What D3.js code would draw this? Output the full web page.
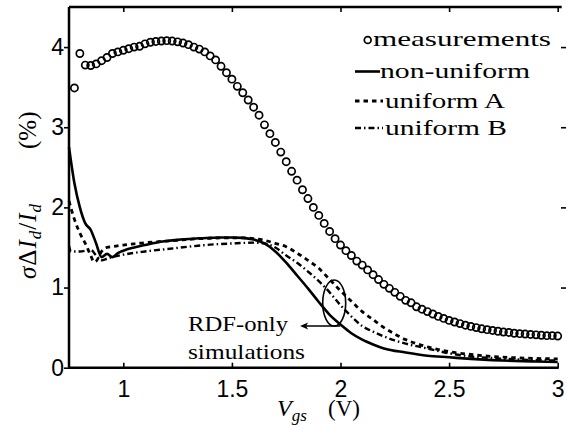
<!DOCTYPE html>
<meta charset="utf-8">
<title>sigma dId/Id vs Vgs</title>
<style>
body { margin:0; background:#fff; }
svg { display:block; }
</style>
<svg width="567" height="430"></svg>
<script src="https://d3js.org/d3.v7.min.js"></script>
<script>

// ---- data ----
var xTicks = [1, 1.5, 2, 2.5, 3];
var yTicks = [0, 1, 2, 3, 4];

var measVgs = [0.775,0.8,0.825,0.85,0.875,0.9,0.925,0.95,0.975,1.0,1.025,1.05,1.075,1.1,1.125,1.15,1.175,1.2,1.225,1.25,
  1.275,1.3,1.325,1.35,1.375,1.4,1.425,1.45,1.475,1.5,1.525,1.55,1.575,1.6,1.625,1.65,1.675,1.7,1.725,1.75,
  1.775,1.8,1.825,1.85,1.875,1.9,1.925,1.95,1.975,2.0,2.025,2.05,2.075,2.1,2.125,2.15,2.175,2.2,2.225,2.25,
  2.275,2.3,2.325,2.35,2.375,2.4,2.425,2.45,2.475,2.5,2.525,2.55,2.575,2.6,2.625,2.65,2.675,2.7,2.725,2.75,
  2.775,2.8,2.825,2.85,2.875,2.9,2.925,2.95,2.975,3.0];
var measSigma = [3.49,3.92,3.775,3.77,3.79,3.83,3.87,3.92,3.94,3.96,3.98,4.0,4.01,4.04,4.06,4.07,4.075,4.08,4.075,4.065,
  4.05,4.03,4.0,3.975,3.94,3.89,3.84,3.76,3.68,3.6,3.51,3.43,3.34,3.25,3.15,3.03,2.92,2.81,2.69,2.57,
  2.45,2.34,2.22,2.11,2.0,1.9,1.8,1.7,1.61,1.53,1.46,1.4,1.33,1.28,1.22,1.16,1.1,1.04,0.99,0.94,
  0.89,0.84,0.81,0.76,0.73,0.7,0.67,0.64,0.615,0.59,0.57,0.55,0.53,0.515,0.5,0.485,0.475,0.465,0.455,0.445,
  0.44,0.43,0.425,0.42,0.415,0.41,0.405,0.4,0.4,0.395];

var nuVgs   = [0.75,0.775,0.8,0.825,0.85,0.875,0.9,0.925,0.95,0.975,1.0,1.05,1.1,1.15,1.2,1.25,1.3,1.35,1.4,1.45,1.5,1.55,1.6,
  1.65,1.7,1.75,1.8,1.85,1.9,1.95,2.0,2.05,2.1,2.15,2.2,2.3,2.4,2.5,2.6,2.7,2.8,2.9,3.0];
var nuSigma = [2.75,2.3,2.0,1.8,1.72,1.55,1.38,1.42,1.38,1.43,1.46,1.5,1.53,1.56,1.58,1.595,1.605,1.615,1.62,1.625,1.625,1.62,1.6,
  1.55,1.45,1.31,1.15,0.99,0.82,0.66,0.54,0.43,0.35,0.29,0.24,0.19,0.15,0.13,0.11,0.095,0.085,0.078,0.072];

var uaVgs   = [0.75,0.775,0.8,0.825,0.85,0.865,0.875,0.9,0.925,0.95,1.0,1.05,1.1,1.15,1.2,1.25,1.3,1.35,1.4,1.45,1.5,1.55,1.6,
  1.65,1.7,1.75,1.8,1.85,1.9,1.95,2.0,2.05,2.1,2.15,2.2,2.25,2.3,2.35,2.4,2.5,2.6,2.7,2.8,2.9,3.0];
var uaSigma = [2.08,1.85,1.68,1.55,1.4,1.32,1.33,1.45,1.5,1.51,1.53,1.545,1.56,1.57,1.58,1.59,1.6,1.61,1.615,1.62,1.62,1.62,1.61,
  1.59,1.55,1.51,1.43,1.34,1.24,1.1,0.96,0.83,0.7,0.6,0.5,0.42,0.35,0.3,0.26,0.2,0.165,0.14,0.125,0.115,0.11];

var ubVgs   = [0.75,0.76,0.8,0.85,0.875,0.9,0.925,0.95,1.0,1.1,1.2,1.3,1.4,1.5,1.6,1.65,1.7,1.75,1.8,1.85,1.9,1.95,2.0,
  2.05,2.1,2.15,2.2,2.25,2.3,2.4,2.5,2.6,2.7,2.8,2.9,3.0];
var ubSigma = [1.52,1.45,1.45,1.47,1.4,1.34,1.36,1.38,1.41,1.45,1.48,1.51,1.535,1.55,1.56,1.55,1.5,1.4,1.31,1.2,1.08,0.94,0.78,
  0.64,0.52,0.45,0.39,0.34,0.3,0.24,0.18,0.14,0.12,0.105,0.095,0.09];

var legendLabels = ["measurements", "non-uniform", "uniform A", "uniform B"];
var noteLines = ["RDF-only", "simulations"];

// ---- layout ----
var SERIF = "'Liberation Serif', 'DejaVu Serif', serif",
    SANS = "'Liberation Sans', Arial, Helvetica, sans-serif";

var svg = d3.select("svg"),
    pLeft = 69, pRight = 557.7, pTop = 7, pBottom = 367.7;

var x = d3.scaleLinear().domain([0.75, 3]).range([pLeft, pRight]);
var y = d3.scaleLinear().domain([0, 4.5]).range([pBottom, pTop]);

var toPts = function(xs, ys) { return xs.map(function(v, i) { return [v, ys[i]]; }); };
var line = d3.line()
    .x(function(d) { return x(d[0]); })
    .y(function(d) { return y(d[1]); })
    .curve(d3.curveMonotoneX);

// axes
var fmt = d3.format("");
var gB = svg.append("g").attr("transform", "translate(0," + pBottom + ")")
  .call(d3.axisBottom(x).tickValues(xTicks).tickFormat(fmt).tickSizeInner(-5).tickSizeOuter(0).tickPadding(13));
var gT = svg.append("g").attr("transform", "translate(0," + pTop + ")")
  .call(d3.axisTop(x).tickValues(xTicks).tickFormat("").tickSizeInner(-5).tickSizeOuter(0));
var gL = svg.append("g").attr("transform", "translate(" + pLeft + ",0)")
  .call(d3.axisLeft(y).tickValues(yTicks).tickFormat(fmt).tickSizeInner(5).tickSizeOuter(0).tickPadding(0));
var gR = svg.append("g").attr("transform", "translate(561,0)")
  .call(d3.axisRight(y).tickValues(yTicks.slice(1)).tickFormat("").tickSizeInner(5).tickSizeOuter(0));
gR.select(".domain").remove();

[gB, gT, gL].forEach(function(g) {
  g.select(".domain").attr("stroke", "#000").attr("stroke-width", 2.5);
});
[gB, gT, gL, gR].forEach(function(g) {
  g.attr("font-family", null).attr("font-size", null);
  g.selectAll(".tick line").attr("stroke", "#000").attr("stroke-width", 1.6);
  g.selectAll(".tick text").style("font-family", SANS).style("font-size", "23px").attr("fill", "#000");
});
gL.select(".domain").attr("d", "M0," + pTop + "V" + pBottom);
gB.select(".domain").attr("d", "M" + pLeft + ",0H" + (pRight + 1));
gT.select(".domain").attr("d", "M" + pLeft + ",0H" + (pRight + 4));

// simulation curves
svg.append("path").datum(toPts(ubVgs, ubSigma))
  .attr("d", line).attr("fill", "none").attr("stroke", "#000")
  .attr("stroke-width", 2.4).attr("stroke-dasharray", "6,3,1.5,3");
svg.append("path").datum(toPts(uaVgs, uaSigma))
  .attr("d", line).attr("fill", "none").attr("stroke", "#000")
  .attr("stroke-width", 2.8).attr("stroke-dasharray", "4.5,4");
svg.append("path").datum(toPts(nuVgs, nuSigma))
  .attr("d", line).attr("fill", "none").attr("stroke", "#000")
  .attr("stroke-width", 2.6);

// measurements
svg.append("g").selectAll("circle")
  .data(toPts(measVgs, measSigma))
  .enter().append("circle")
    .attr("cx", function(d) { return x(d[0]); })
    .attr("cy", function(d) { return y(d[1]); })
    .attr("r", 3.6)
    .attr("fill", "none").attr("stroke", "#000").attr("stroke-width", 1.7);

// annotation: ellipse + arrow + text
var ell = {vgs: 1.971, sigma: 0.807};
svg.append("ellipse")
  .attr("cx", x(ell.vgs)).attr("cy", y(ell.sigma)).attr("rx", 11.5).attr("ry", 23)
  .attr("fill", "none").attr("stroke", "#000").attr("stroke-width", 1.6);
var arrow = {from: 1.998, to: 1.814, sigma: 0.52};
svg.append("line")
  .attr("x1", x(arrow.from)).attr("x2", x(arrow.to) + 3)
  .attr("y1", y(arrow.sigma)).attr("y2", y(arrow.sigma))
  .attr("stroke", "#000").attr("stroke-width", 1.3);
svg.append("path")
  .attr("d", "M" + x(arrow.to) + "," + y(arrow.sigma) + "l8,-3.5l-2,3.5l2,3.5z")
  .attr("fill", "#000");
svg.selectAll(".note").data(noteLines).enter().append("text")
  .attr("class", "note")
  .style("font-family", SERIF).style("font-size", "21px")
  .attr("x", 188).attr("y", function(d, i) { return 331 + i * 28; })
  .attr("textLength", function(d, i) { return [100, 117][i]; })
  .attr("lengthAdjust", "spacingAndGlyphs")
  .text(function(d) { return d; });

// legend
var lg = svg.append("g");
lg.append("circle").attr("cx", 367.7).attr("cy", 40).attr("r", 3.4)
  .attr("fill", "none").attr("stroke", "#000").attr("stroke-width", 1.7);
lg.append("line").attr("x1", 355).attr("x2", 380).attr("y1", 71.5).attr("y2", 71.5)
  .attr("stroke", "#000").attr("stroke-width", 2.6);
lg.append("line").attr("x1", 355).attr("x2", 383).attr("y1", 101).attr("y2", 101)
  .attr("stroke", "#000").attr("stroke-width", 2.8).attr("stroke-dasharray", "4.5,4");
lg.append("line").attr("x1", 355).attr("x2", 383).attr("y1", 128).attr("y2", 128)
  .attr("stroke", "#000").attr("stroke-width", 2.4).attr("stroke-dasharray", "6,3,1.5,3");
var lgX = [373, 380, 385, 385], lgY = [46, 78, 108, 135], lgW = [178, 150, 120, 122];
lg.selectAll("text").data(legendLabels).enter().append("text")
  .style("font-family", SERIF).style("font-size", "22px")
  .attr("x", function(d, i) { return lgX[i]; })
  .attr("y", function(d, i) { return lgY[i]; })
  .attr("textLength", function(d, i) { return lgW[i]; })
  .attr("lengthAdjust", "spacingAndGlyphs")
  .text(function(d) { return d; });

// x label: V_gs (V)
var xl = svg.append("text").style("font-family", SERIF).style("font-size", "24px")
  .attr("x", 277).attr("y", 416);
xl.append("tspan").style("font-style", "italic").text("V");
xl.append("tspan").style("font-style", "italic").style("font-size", "17px").attr("dy", 5).text("gs");
svg.append("text").style("font-family", SERIF).style("font-size", "23px")
  .attr("x", 328).attr("y", 416).text("(V)");

// y label: sigma Delta I_d / I_d (%)
var yl = svg.append("text").style("font-family", SERIF).style("font-size", "25px")
  .attr("transform", "translate(36,279) rotate(-90)")
  .style("letter-spacing", "1px");
yl.append("tspan").style("font-style", "italic").text("σ");
yl.append("tspan").text("Δ");
yl.append("tspan").style("font-style", "italic").text("I");
yl.append("tspan").style("font-style", "italic").style("font-size", "17px").attr("dy", 5).text("d");
yl.append("tspan").attr("dy", -5).text("/");
yl.append("tspan").style("font-style", "italic").text("I");
yl.append("tspan").style("font-style", "italic").style("font-size", "17px").attr("dy", 5).text("d");
svg.append("text").style("font-family", SERIF).style("font-size", "25px")
  .attr("transform", "translate(36,149) rotate(-90)")
  .text("(%)");

</script>
